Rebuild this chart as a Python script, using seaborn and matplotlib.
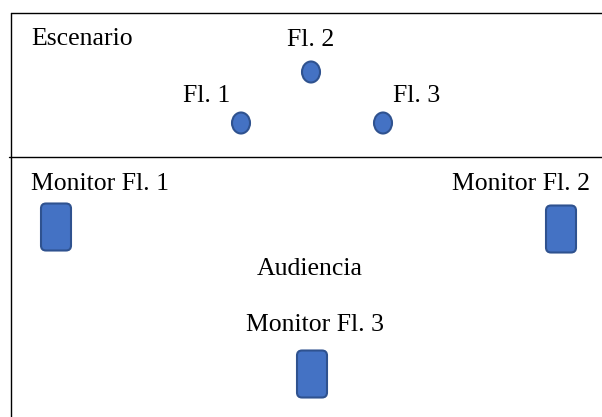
import matplotlib
matplotlib.use("Agg")
import matplotlib.pyplot as plt
from matplotlib.patches import FancyBboxPatch, Ellipse
import seaborn as sns
import pandas as pd

# Flute (Fl.) positions on stage
flute_labels = ["Fl. 1", "Fl. 2", "Fl. 3"]
flute_x = [241, 311, 383]
flute_y = [123, 72, 123]

# Monitor positions (centre) in audience area
monitor_labels = ["Monitor Fl. 1", "Monitor Fl. 2", "Monitor Fl. 3"]
monitor_x = [56, 561, 312]
monitor_y = [227, 229, 374]

# Area labels
area_labels = ["Escenario", "Audiencia"]

FILL = "#4472C4"
EDGE = "#2F528F"

sns.set_theme(style="white")
plt.rcParams["font.family"] = ["Liberation Serif", "DejaVu Serif"]

fig = plt.figure(figsize=(6.02, 4.17), dpi=100)
ax = fig.add_axes([0, 0, 1, 1])
ax.set_xlim(0, 602)
ax.set_ylim(417, 0)
ax.axis("off")

# frame lines
ax.plot([11, 11], [13, 417], color="black", lw=1.0)
ax.plot([11, 602], [13, 13], color="black", lw=1.0)
ax.plot([9, 602], [157, 157], color="black", lw=1.0)

df = pd.DataFrame({"x": flute_x, "y": flute_y, "label": flute_labels})
for _, r in df.iterrows():
    ax.add_patch(Ellipse((r.x, r.y), 18, 21, facecolor=FILL, edgecolor=EDGE, lw=1.5, zorder=3))

mw, mh = 30, 47
rad = 5
for x, y in zip(monitor_x, monitor_y):
    ax.add_patch(FancyBboxPatch((x - mw / 2 + rad, y - mh / 2 + rad), mw - 2 * rad, mh - 2 * rad,
                                boxstyle=f"round,pad={rad}", facecolor=FILL, edgecolor=EDGE,
                                lw=1.5, zorder=3))

fs = 18.5
kw = dict(fontsize=fs, va="baseline", color="black")
ax.text(31, 45, area_labels[0], ha="left", **kw)
ax.text(311, 46, flute_labels[1], ha="center", **kw)
ax.text(207, 102, flute_labels[0], ha="center", **kw)
ax.text(417, 102, flute_labels[2], ha="center", **kw)
ax.text(31, 190, monitor_labels[0], ha="left", **kw)
ax.text(590, 190, monitor_labels[1], ha="right", **kw)
ax.text(310, 275, area_labels[1], ha="center", **kw)
ax.text(315, 331, monitor_labels[2], ha="center", **kw)

fig.savefig("out.png", dpi=100)
